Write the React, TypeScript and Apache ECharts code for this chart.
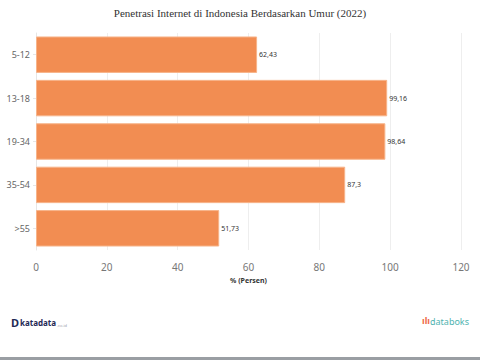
import React, { useEffect, useRef } from "react";
import * as echarts from "echarts";

const categories = ["5-12", "13-18", "19-34", "35-54", ">55"];
const values = [62.43, 99.16, 98.64, 87.3, 51.73];
const xTicks = [0, 20, 40, 60, 80, 100, 120];

export default function App() {
  const ref = useRef<HTMLDivElement>(null);
  useEffect(() => {
    const chart = echarts.init(ref.current!, null, { renderer: "svg" });
    chart.setOption({
      animation: false,
      backgroundColor: "#ffffff",
      title: {
        text: "Penetrasi Internet di Indonesia Berdasarkan Umur (2022)",
        left: "center",
        top: 2,
        textStyle: { fontFamily: "Liberation Serif", fontSize: 11, fontWeight: "normal", color: "#333" },
      },
      grid: { left: 36, right: 19, top: 33, bottom: 110, containLabel: false },
      xAxis: {
        type: "value",
        min: xTicks[0],
        max: xTicks[xTicks.length - 1],
        interval: 20,
        name: "% (Persen)",
        nameLocation: "middle",
        nameGap: 27,
        nameTextStyle: { fontFamily: "Noto Sans", fontSize: 7, fontWeight: "bold", color: "#333" },
        axisLine: { show: false },
        axisTick: { show: false },
        axisLabel: { fontFamily: "Noto Sans", fontSize: 10, color: "#777", margin: 12 },
        splitLine: { show: true, lineStyle: { color: "#eeeeee", width: 1 } },
      },
      yAxis: {
        type: "category",
        data: categories,
        inverse: true,
        axisLine: { show: true, lineStyle: { color: "#e6e6e6" } },
        axisTick: { show: true, alignWithLabel: true, length: 3, lineStyle: { color: "#e6e6e6" } },
        axisLabel: { fontFamily: "Noto Sans", fontSize: 9, color: "#666", margin: 6 },
      },
      series: [
        {
          type: "bar",
          data: values,
          barCategoryGap: "16%",
          itemStyle: { color: "#f28d52", borderColor: "#f7b48a", borderWidth: 1 },
          label: {
            show: true,
            position: "right",
            distance: 2,
            fontFamily: "Noto Sans",
            fontSize: 7,
            color: "#333",
            formatter: (p: any) => String(p.value).replace(".", ","),
          },
        },
      ],
      graphic: [
        { type: "text", left: 11, top: 317, style: { text: "D", font: "bold 11px Noto Sans", fill: "#1f2a55" } },
        { type: "text", left: 20, top: 318, style: { text: "katadata", font: "bold 8px Noto Sans", fill: "#1f2a55" } },
        { type: "text", left: 57, top: 323, style: { text: ".co.id", font: "4px Noto Sans", fill: "#99a" } },
        { type: "text", left: 422, top: 316, style: { text: "ılı", font: "bold 9px Noto Sans", fill: "#ef6b4a" } },
        { type: "text", left: 430, top: 317, style: { text: "databoks", font: "9px Noto Sans", fill: "#4fb3b0" } },
        { type: "rect", shape: { x: 0, y: 357, width: 480, height: 3 }, style: { fill: "#9a9ea3" } },
      ],
    });
    return () => chart.dispose();
  }, []);
  return <div ref={ref} style={{ width: 480, height: 360, position: "absolute", left: 0, top: 0 }} />;
}
